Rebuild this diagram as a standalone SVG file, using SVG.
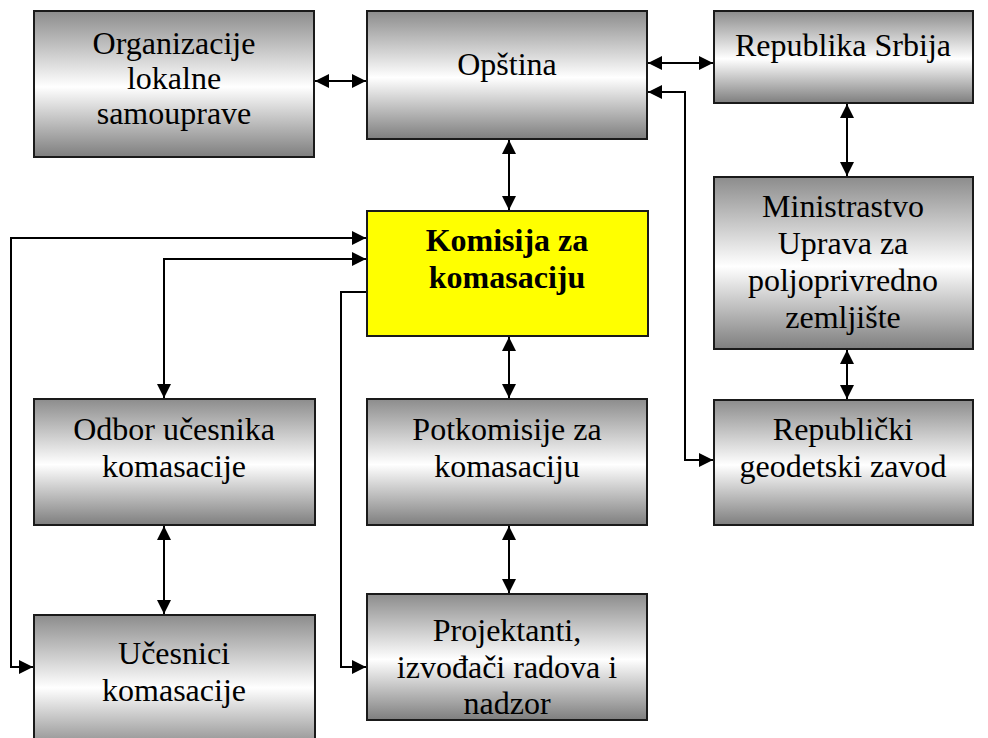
<svg xmlns="http://www.w3.org/2000/svg" width="988" height="738" viewBox="0 0 988 738">
  <style>
    .box { fill: url(#metal); stroke: #1a1a1a; stroke-width: 2; }
    .key { fill: #ffff00; stroke: #1a1a1a; stroke-width: 2; }
    .wire { fill: none; stroke: #000; stroke-width: 2; marker-start: url(#tip); marker-end: url(#tip); }
    .wire1 { fill: none; stroke: #000; stroke-width: 2; marker-end: url(#tip); }
  </style>
  <defs>
    <linearGradient id="metal" x1="0" y1="0" x2="0" y2="1">
      <stop offset="0" stop-color="#8c8c8c"/>
      <stop offset="0.52" stop-color="#ffffff"/>
      <stop offset="1" stop-color="#7e7e7e"/>
    </linearGradient>
    <marker id="tip" markerUnits="userSpaceOnUse" markerWidth="16" markerHeight="16" refX="14" refY="7" orient="auto-start-reverse">
      <path d="M0,0 L14,7 L0,14 Z" fill="#000"/>
    </marker>
  </defs>

  <!-- connectors -->
  <g id="connectors">
    <line class="wire" x1="315" y1="81" x2="366" y2="81"/>
    <line class="wire" x1="648" y1="63" x2="713" y2="63"/>
    <path class="wire" d="M648,92 H685 V460 H713"/>
    <line class="wire" x1="847" y1="104" x2="847" y2="176"/>
    <line class="wire" x1="847" y1="350" x2="847" y2="399"/>
    <line class="wire" x1="509" y1="140" x2="509" y2="210"/>
    <line class="wire" x1="509" y1="337" x2="509" y2="398"/>
    <line class="wire" x1="509" y1="526" x2="509" y2="593"/>
    <line class="wire" x1="164" y1="526" x2="164" y2="614"/>
    <path class="wire" d="M33,667 H11 V238 H366"/>
    <path class="wire" d="M366,259 H164 V398"/>
    <path class="wire1" d="M367,292 H341 V667 H366"/>
  </g>

  <!-- nodes; all labels share one serif face set on this group -->
  <g font-family="Liberation Serif" font-size="32" fill="#000" text-anchor="middle">
    <g id="organizacije">
      <rect class="box" x="34" y="11" width="280" height="146"/>
      <text x="174" y="54">Organizacije</text>
      <text x="174" y="89">lokalne</text>
      <text x="174" y="124">samouprave</text>
    </g>
    <g id="opstina">
      <rect class="box" x="367" y="11" width="280" height="128"/>
      <text x="507" y="75">Opština</text>
    </g>
    <g id="republika">
      <rect class="box" x="714" y="11" width="259" height="92"/>
      <text x="843" y="56">Republika Srbija</text>
    </g>
    <g id="ministarstvo">
      <rect class="box" x="714" y="177" width="259" height="172"/>
      <text x="843" y="217">Ministrastvo</text>
      <text x="843" y="254">Uprava za</text>
      <text x="843" y="291">poljoprivredno</text>
      <text x="843" y="328">zemljište</text>
    </g>
    <g id="rgz">
      <rect class="box" x="714" y="400" width="259" height="125"/>
      <text x="843" y="440">Republički</text>
      <text x="843" y="477">geodetski zavod</text>
    </g>
    <g id="komisija">
      <rect class="key" x="367" y="211" width="281" height="125"/>
      <text x="507" y="251" font-weight="bold">Komisija za</text>
      <text x="507" y="288" font-weight="bold">komasaciju</text>
    </g>
    <g id="odbor">
      <rect class="box" x="34" y="399" width="281" height="126"/>
      <text x="174" y="440">Odbor učesnika</text>
      <text x="174" y="477">komasacije</text>
    </g>
    <g id="potkomisije">
      <rect class="box" x="367" y="399" width="280" height="126"/>
      <text x="507" y="440">Potkomisije za</text>
      <text x="507" y="477">komasaciju</text>
    </g>
    <g id="ucesnici">
      <rect class="box" x="34" y="615" width="281" height="140"/>
      <text x="174" y="664">Učesnici</text>
      <text x="174" y="701">komasacije</text>
    </g>
    <g id="projektanti">
      <rect class="box" x="367" y="594" width="280" height="126"/>
      <text x="507" y="641">Projektanti,</text>
      <text x="507" y="678">izvođači radova i</text>
      <text x="507" y="714">nadzor</text>
    </g>
  </g>
</svg>
